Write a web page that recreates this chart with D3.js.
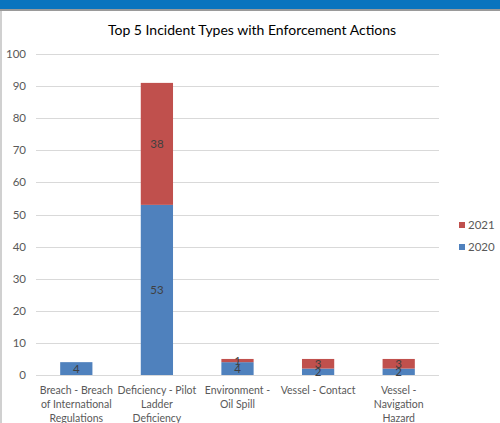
<html>
  <head>
    <script src="https://d3js.org/d3.v7.min.js" charset="utf-8"></script>
    <style>
      body { margin: 0; background: #fff; }
      text { font-family: Lato, "Open Sans", sans-serif; }
    </style>
    <script type="text/javascript">
      window.onload = function () {

        var categories = [
          ["Breach - Breach", "of International", "Regulations"],
          ["Deficiency - Pilot", "Ladder", "Deficiency"],
          ["Environment -", "Oil Spill"],
          ["Vessel - Contact"],
          ["Vessel -", "Navigation", "Hazard"]
        ]
        var series = ["2020", "2021"]
        var values2020 = [4, 53, 4, 2, 2]
        var values2021 = [0, 38, 1, 3, 3]
        var yTicks = [0, 10, 20, 30, 40, 50, 60, 70, 80, 90, 100]

        var colors = { "2020": "#4F81BD", "2021": "#C0504D" }

        var width = 500
        var height = 423
        var plot = { left: 36, right: 439, top: 54, bottom: 375 }

        var svg = d3.select("body").append("svg")
          .attr("width", width)
          .attr("height", height)

        // top banner + borders
        svg.append("rect").attr("x", 0).attr("y", 0).attr("width", width).attr("height", 9).attr("fill", "#0A74BE")
        svg.append("rect").attr("x", 0).attr("y", 9).attr("width", width).attr("height", 2).attr("fill", "#9A9A9A")
        svg.append("rect").attr("x", 0).attr("y", 11).attr("width", 2).attr("height", height).attr("fill", "#D0D0D0")

        svg.append("text")
          .attr("x", 252).attr("y", 35)
          .attr("text-anchor", "middle")
          .attr("font-size", "14px")
          .attr("fill", "#000")
          .text("Top 5 Incident Types with Enforcement Actions")

        var x = d3.scaleBand()
          .domain(d3.range(categories.length))
          .range([plot.left, plot.right])
          .paddingInner(0.6)
          .paddingOuter(0.3)

        var y = d3.scaleLinear()
          .domain([0, 100])
          .range([plot.bottom, plot.top])

        // gridlines
        svg.append("g").selectAll("line")
          .data(yTicks)
          .enter().append("line")
          .attr("x1", plot.left).attr("x2", plot.right)
          .attr("y1", function (d) { return Math.round(y(d)) + 0.5 })
          .attr("y2", function (d) { return Math.round(y(d)) + 0.5 })
          .attr("stroke", "#D9D9D9")
          .attr("stroke-width", 1)

        // y labels
        svg.append("g").selectAll("text")
          .data(yTicks)
          .enter().append("text")
          .attr("x", 26)
          .attr("y", function (d) { return y(d) })
          .attr("dy", "0.35em")
          .attr("text-anchor", "end")
          .attr("font-size", "11.5px")
          .attr("fill", "#595959")
          .text(function (d) { return d })

        var stackData = categories.map(function (c, i) {
          return { i: i, "2020": values2020[i], "2021": values2021[i] }
        })
        var stacked = d3.stack().keys(series)(stackData)

        var layers = svg.append("g").selectAll("g")
          .data(stacked)
          .enter().append("g")
          .attr("fill", function (d) { return colors[d.key] })

        layers.selectAll("rect")
          .data(function (d) { return d })
          .enter().append("rect")
          .attr("x", function (d) { return x(d.data.i) })
          .attr("width", x.bandwidth())
          .attr("y", function (d) { return y(d[1]) })
          .attr("height", function (d) { return y(d[0]) - y(d[1]) })

        // data labels
        stacked.forEach(function (layer) {
          svg.append("g").selectAll("text")
            .data(layer.filter(function (d) { return d[1] - d[0] > 0 }))
            .enter().append("text")
            .attr("x", function (d) { return x(d.data.i) + x.bandwidth() / 2 })
            .attr("y", function (d) { return (y(d[0]) + y(d[1])) / 2 })
            .attr("dy", "0.35em")
            .attr("text-anchor", "middle")
            .attr("font-size", "11.5px")
            .attr("fill", "#404040")
            .text(function (d) { return d[1] - d[0] })
        })

        // category labels
        var cat = svg.append("g").selectAll("text")
          .data(categories)
          .enter().append("text")
          .attr("x", function (d, i) { return x(i) + x.bandwidth() / 2 })
          .attr("y", 394)
          .attr("text-anchor", "middle")
          .attr("font-size", "10.5px")
          .attr("fill", "#595959")
        cat.selectAll("tspan")
          .data(function (d) { return d })
          .enter().append("tspan")
          .attr("x", function () { return d3.select(this.parentNode).attr("x") })
          .attr("dy", function (d, i) { return i === 0 ? 0 : 14 })
          .text(function (d) { return d })

        // legend
        var legend = svg.append("g").selectAll("g")
          .data(series.slice().reverse())
          .enter().append("g")
          .attr("transform", function (d, i) { return "translate(459," + (225 + i * 22) + ")" })
        legend.append("rect")
          .attr("x", 0).attr("y", -3).attr("width", 6).attr("height", 6)
          .attr("fill", function (d) { return colors[d] })
        legend.append("text")
          .attr("x", 9).attr("dy", "0.35em")
          .attr("font-size", "11.5px")
          .attr("fill", "#595959")
          .text(function (d) { return d })
      }
    </script>
  </head>
  <body>
  </body>
</html>
